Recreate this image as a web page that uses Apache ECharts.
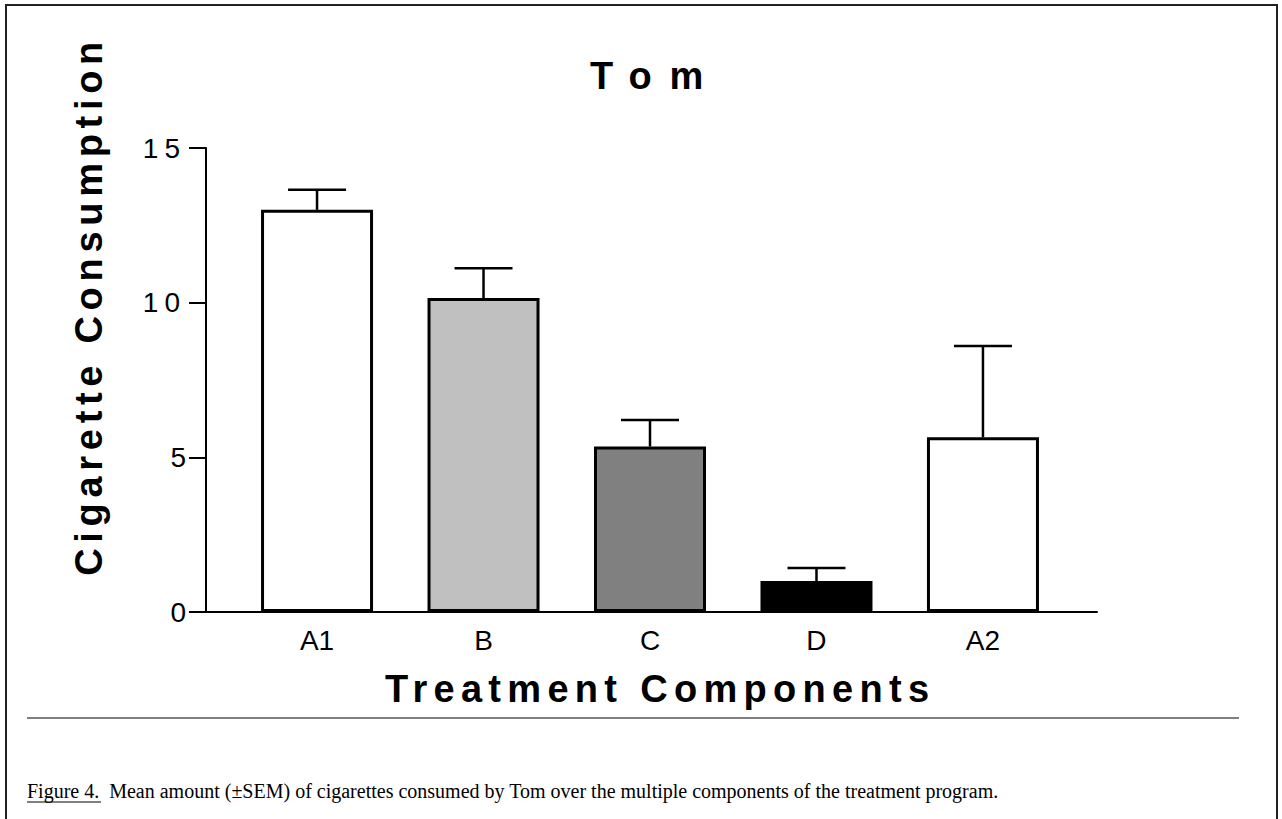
<!DOCTYPE html>
<html>
<head>
<meta charset="utf-8">
<script src="https://cdn.jsdelivr.net/npm/echarts@6/dist/echarts.min.js"></script>
<style>
html,body{margin:0;padding:0;background:#fff;}
#chart{width:1282px;height:819px;}
</style>
</head>
<body>
<div id="chart"></div>
<script>
// ---- data ----
const categories = ['A1', 'B', 'C', 'D', 'A2'];
const means = [13.0, 10.15, 5.35, 1.0, 5.65];
const sems = [0.65, 0.96, 0.86, 0.42, 2.95];
const barColors = ['#ffffff', '#c0c0c0', '#808080', '#000000', '#ffffff'];
const titleText = 'Tom';
const xAxisTitle = 'Treatment Components';
const yAxisTitle = 'Cigarette Consumption';
const captionLead = 'Figure 4.';
const captionBody = 'Mean amount (\u00B1SEM) of cigarettes consumed by Tom over the multiple components of the treatment program.';

const FONT = "'Liberation Sans', Arial, sans-serif";
const SERIF = "'Liberation Serif', 'Times New Roman', serif";

const spacing = {};
spacing[titleText] = 18;
spacing[xAxisTitle] = 6.3;
spacing[yAxisTitle] = 5.7;
spacing['15'] = 6;
spacing['10'] = 6;

const chart = echarts.init(document.getElementById('chart'), null, {renderer: 'svg'});

const option = {
  animation: false,
  backgroundColor: '#ffffff',
  grid: {left: 206, right: 185, top: 148, bottom: 207, containLabel: false},
  xAxis: {
    type: 'value',
    min: -0.667,
    max: 4.685,
    splitLine: {show: false},
    axisTick: {show: false},
    axisLine: {show: true, onZero: false, lineStyle: {color: '#000', width: 2}},
    axisLabel: {
      customValues: categories.map((c, i) => i),
      formatter: v => categories[Math.round(v)] || '',
      color: '#000', fontFamily: FONT, fontSize: 28, margin: 14
    }
  },
  yAxis: {
    type: 'value',
    min: 0, max: 15, interval: 5,
    splitLine: {show: false},
    axisLine: {show: true, onZero: false, lineStyle: {color: '#000', width: 2}},
    axisTick: {show: true, length: 17, inside: false, lineStyle: {color: '#000', width: 2}},
    axisLabel: {color: '#000', fontFamily: FONT, fontSize: 28, margin: 20}
  },
  series: [
    {
      type: 'bar',
      barWidth: 112,
      data: categories.map((c, i) => ({value: [i, means[i]], itemStyle: {color: barColors[i]}})),
      itemStyle: {borderColor: '#000', borderWidth: 3},
      z: 2
    },
    {
      type: 'custom',
      z: 3,
      data: categories.map((c, i) => [i, means[i], sems[i]]),
      renderItem: function (params, api) {
        const x = api.value(0), m = api.value(1), s = api.value(2);
        const b = api.coord([x, m]);
        const t = api.coord([x, m + s]);
        return {
          type: 'group',
          children: [
            {type: 'line', shape: {x1: b[0], y1: b[1], x2: t[0], y2: t[1]}, style: {stroke: '#000', lineWidth: 2.5}},
            {type: 'line', shape: {x1: t[0] - 29, y1: t[1], x2: t[0] + 29, y2: t[1]}, style: {stroke: '#000', lineWidth: 2.5}}
          ]
        };
      }
    }
  ],
  graphic: [
    {type: 'rect', shape: {x: 6, y: 5, width: 1271, height: 830}, style: {fill: null, stroke: '#222', lineWidth: 2}, silent: true},
    {type: 'text', x: 590, y: 76, style: {text: titleText, font: 'bold 38px ' + FONT, fill: '#000', textAlign: 'left', textVerticalAlign: 'middle'}},
    {type: 'text', x: 385, y: 689, style: {text: xAxisTitle, font: 'bold 38px ' + FONT, fill: '#000', textAlign: 'left', textVerticalAlign: 'middle'}},
    {type: 'text', x: 89, y: 36, rotation: Math.PI / 2, style: {text: yAxisTitle, font: 'bold 38px ' + FONT, fill: '#000', textAlign: 'right', textVerticalAlign: 'middle'}},
    {type: 'line', shape: {x1: 27, y1: 718, x2: 1239, y2: 718}, style: {stroke: '#808080', lineWidth: 2}},
    {type: 'text', x: 27, y: 791, style: {
      text: '{u|' + captionLead + '}  ' + captionBody,
      font: '20px ' + SERIF, fill: '#000', textAlign: 'left', textVerticalAlign: 'middle',
      rich: {u: {font: '20px ' + SERIF, fill: '#000'}}
    }},
    {type: 'line', shape: {x1: 27, y1: 802, x2: 101, y2: 802}, style: {stroke: '#000', lineWidth: 1}}
  ]
};

function applySpacing() {
  const texts = document.querySelectorAll('#chart text');
  texts.forEach(t => {
    const s = spacing[t.textContent];
    if (s != null) t.setAttribute('letter-spacing', s + 'px');
  });
}
chart.on('finished', applySpacing);
chart.setOption(option);
applySpacing();
setTimeout(applySpacing, 0);
</script>
</body>
</html>
